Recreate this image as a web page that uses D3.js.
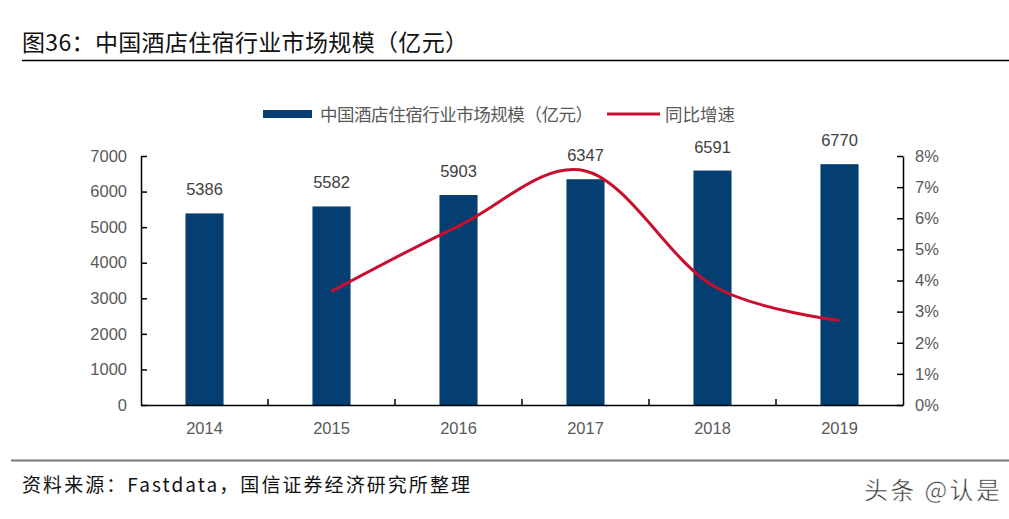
<!DOCTYPE html>
<html>
<head>
<meta charset="utf-8">
<script src="https://cdn.jsdelivr.net/npm/d3@7"></script>
<style>
  body { margin: 0; background: #fff; }
  svg { display: block; }
  text { font-family: "Liberation Sans", Arial, sans-serif; }
  .cjk { font-family: "Noto Sans CJK SC", sans-serif; }
</style>
</head>
<body>
<div class="chart"></div>
<script>
let years = ['2014', '2015', '2016', '2017', '2018', '2019'];
let marketSize = [5386, 5582, 5903, 6347, 6591, 6770];
let growth = [null, 3.65, 5.75, 7.52, 3.84, 2.72];
let leftTicks = [0, 1000, 2000, 3000, 4000, 5000, 6000, 7000];
let rightTicks = [0, 1, 2, 3, 4, 5, 6, 7, 8];

let fullWidth = 1009;
let fullHeight = 519;
let margin = {top: 156, right: 106, bottom: 114, left: 141};
let width = fullWidth - margin.left - margin.right;
let height = fullHeight - margin.top - margin.bottom;

let barColor = '#053f71';
let lineColor = '#c8102e';
let labelColor = '#595959';

let root = d3.select('.chart')
  .append('svg')
    .attr('width', fullWidth)
    .attr('height', fullHeight);

// title + rule
root.append('text')
  .attr('class', 'cjk')
  .attr('x', 22)
  .attr('y', 51)
  .attr('font-size', 23)
  .attr('fill', '#111')
  .attr('textLength', 446)
  .attr('lengthAdjust', 'spacing')
  .text('图36：中国酒店住宿行业市场规模（亿元）');

root.append('line')
  .attr('x1', 22).attr('x2', 1009)
  .attr('y1', 60.5).attr('y2', 60.5)
  .attr('stroke', '#000')
  .attr('stroke-width', 1.5);

// legend
let legend = root.append('g').attr('transform', 'translate(263, 114)');
legend.append('rect')
  .attr('x', 0).attr('y', -4)
  .attr('width', 49).attr('height', 8)
  .attr('fill', barColor);
legend.append('text')
  .attr('class', 'cjk')
  .attr('x', 57).attr('y', 6.5)
  .attr('font-size', 17.5)
  .attr('fill', labelColor)
  .attr('textLength', 273)
  .attr('lengthAdjust', 'spacing')
  .text('中国酒店住宿行业市场规模（亿元）');
legend.append('line')
  .attr('x1', 344).attr('x2', 397)
  .attr('stroke', lineColor)
  .attr('stroke-width', 3);
legend.append('text')
  .attr('class', 'cjk')
  .attr('x', 402).attr('y', 6.5)
  .attr('font-size', 17.5)
  .attr('fill', labelColor)
  .attr('textLength', 70)
  .attr('lengthAdjust', 'spacing')
  .text('同比增速');

let svg = root.append('g')
  .attr('transform', `translate(${margin.left}, ${margin.top})`);

let xScale = d3.scaleBand()
  .domain(years)
  .range([0, width])
  .paddingInner(0.7)
  .paddingOuter(0.35);

let yScale = d3.scaleLinear()
  .domain([0, 7000])
  .range([height, 0]);

let y2Scale = d3.scaleLinear()
  .domain([0, 8])
  .range([height, 0]);

// bars
svg.selectAll('.bar')
  .data(marketSize)
  .enter().append('rect')
    .attr('class', 'bar')
    .attr('x', (d, i) => xScale(years[i]))
    .attr('y', d => yScale(d))
    .attr('width', xScale.bandwidth())
    .attr('height', d => height - yScale(d))
    .attr('fill', barColor);

// value labels
svg.selectAll('.val')
  .data(marketSize)
  .enter().append('text')
    .attr('class', 'val')
    .attr('x', (d, i) => xScale(years[i]) + xScale.bandwidth() / 2)
    .attr('y', d => yScale(d) - 18)
    .attr('text-anchor', 'middle')
    .attr('font-size', 16.5)
    .attr('fill', '#404040')
    .text(d => d);

// growth line
let lineData = growth.map((g, i) => ({year: years[i], g: g})).filter(d => d.g !== null);
let line = d3.line()
  .x(d => xScale(d.year) + xScale.bandwidth() / 2)
  .y(d => y2Scale(d.g))
  .curve(d3.curveCatmullRom.alpha(0));

svg.append('path')
  .datum(lineData)
  .attr('d', line)
  .attr('fill', 'none')
  .attr('stroke', lineColor)
  .attr('stroke-width', 3);

// axes
let yAxis = d3.axisLeft(yScale)
  .tickValues(leftTicks)
  .tickFormat(d3.format('d'))
  .tickSizeInner(-6)
  .tickSizeOuter(0)
  .tickPadding(14);
let gy = svg.append('g').call(yAxis);

let y2Axis = d3.axisRight(y2Scale)
  .tickValues(rightTicks)
  .tickFormat(d => d + '%')
  .tickSizeInner(-6)
  .tickSizeOuter(0)
  .tickPadding(12);
let gy2 = svg.append('g')
  .attr('transform', `translate(${width}, 0)`)
  .call(y2Axis);

let xAxis = d3.axisBottom(xScale)
  .tickSize(0)
  .tickPadding(17);
let gx = svg.append('g')
  .attr('transform', `translate(0, ${height})`)
  .call(xAxis);

// category separators pointing up
svg.selectAll('.sep')
  .data(years.slice(1))
  .enter().append('line')
    .attr('class', 'sep')
    .attr('x1', d => xScale(d) - xScale.step() * xScale.paddingInner() / 2)
    .attr('x2', d => xScale(d) - xScale.step() * xScale.paddingInner() / 2)
    .attr('y1', height)
    .attr('y2', height - 6)
    .attr('stroke', '#000')
    .attr('stroke-width', 1.5);

[gy, gy2, gx].forEach(g => {
  g.select('.domain').attr('stroke', '#000').attr('stroke-width', 1.5);
  g.selectAll('.tick line').attr('stroke', '#000').attr('stroke-width', 1.5);
  g.selectAll('.tick text')
    .attr('font-size', 16.5)
    .attr('fill', labelColor)
    .style('font-family', '"Liberation Sans", Arial, sans-serif');
});

// footer
root.append('line')
  .attr('x1', 11).attr('x2', 1009)
  .attr('y1', 460.5).attr('y2', 460.5)
  .attr('stroke', '#777')
  .attr('stroke-width', 2);

root.append('text')
  .attr('class', 'cjk')
  .attr('x', 22)
  .attr('y', 492)
  .attr('font-size', 19)
  .attr('fill', '#111')
  .attr('textLength', 448)
  .attr('lengthAdjust', 'spacing')
  .text('资料来源：Fastdata，国信证券经济研究所整理');

root.append('text')
  .attr('class', 'cjk')
  .attr('x', 864)
  .attr('y', 499)
  .attr('font-size', 24)
  .attr('fill', '#333')
  .attr('stroke', '#fff')
  .attr('stroke-width', 0.5)
  .attr('textLength', 136)
  .attr('lengthAdjust', 'spacing')
  .text('头条 @认是');
</script>
</body>
</html>
